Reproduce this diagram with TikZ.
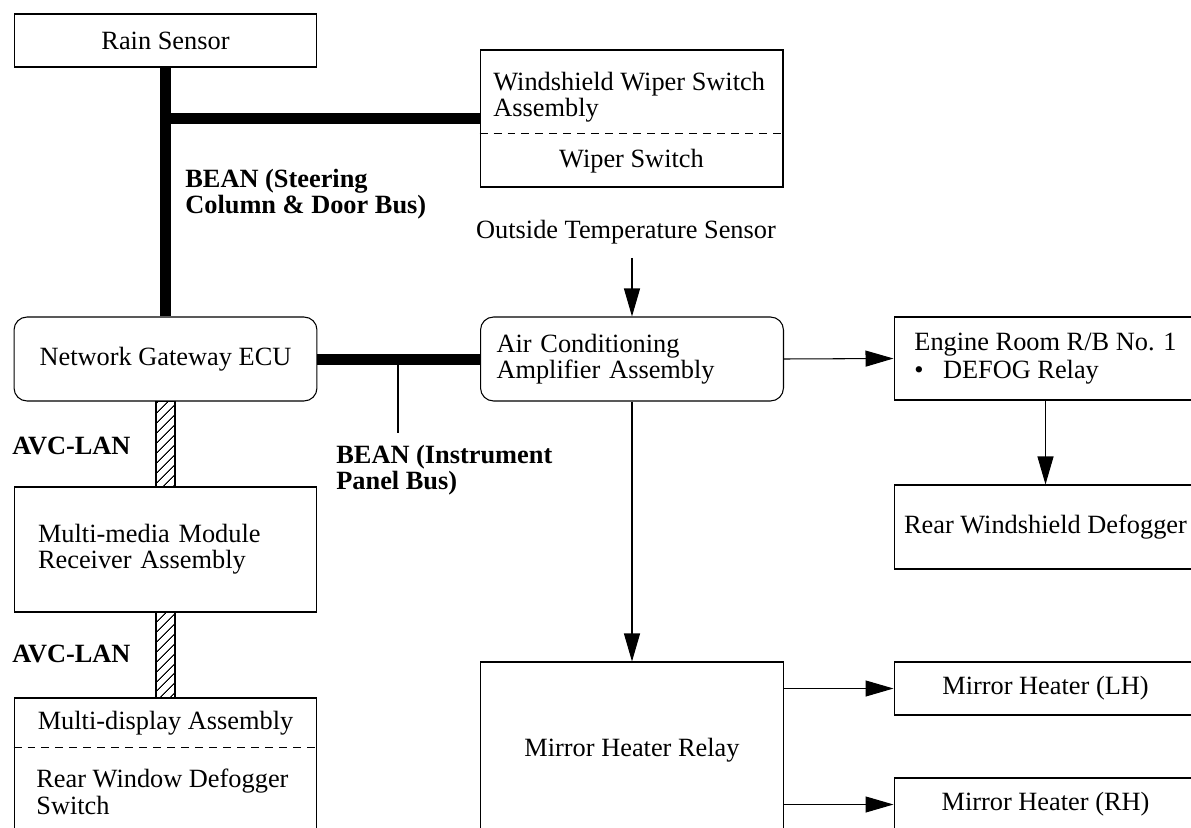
\documentclass[tikz,border=0pt]{standalone}
\usepackage{fontspec}
\setmainfont{Liberation Serif}
\usetikzlibrary{arrows.meta,patterns.meta}

\begin{document}
\begin{tikzpicture}[x=0.02cm,y=-0.02cm,
		font=\fontsize{15pt}{15pt}\selectfont,
		box/.style={draw,line width=0.6pt,minimum width=6.06cm,inner sep=0pt,align=center},
		roundbox/.style={box,rounded corners=0.26cm},
		txt/.style={inner sep=0pt,align=left},
		busname/.style={txt,font=\fontsize{15pt}{15pt}\selectfont\bfseries},
		bean/.style={line width=0.22cm},
		avc/.style={draw,line width=0.6pt,pattern={Lines[angle=45,distance=4pt,line width=0.6pt]}},
		cut/.style={line width=0.5pt,dash pattern=on 0.16cm off 0.12cm},
		feed/.style={line width=0.6pt,-{Triangle[length=0.56cm,width=0.32cm]}}]
		\useasboundingbox (0,0) rectangle (1191,828);
		\clip (0,0) rectangle (1191,828);
		% left column
		\node[box,minimum height=1.06cm] (rain) at (165.5,40.5) {Rain Sensor};
		\node[roundbox,minimum height=1.68cm] (gateway) at (165.5,359) {Network Gateway ECU};
		\node[box,minimum height=2.5cm,text width=5.10cm,inner xsep=0.48cm,align=left] (receiver) at (165.5,549.5) {Multi-media Module\\Receiver Assembly};
		\node[box,minimum height=2.8cm] (display) at (165.5,768) {};
		\node[anchor=base] (displayhead) at (165.5,729) {Multi-display Assembly};
		\node[txt,anchor=west] (displaypart) at (36,792) {Rear Window Defogger\\Switch};
		\draw[cut] ([yshift=-1cm]display.north west) -- ([yshift=-1cm]display.north east);
		% middle column
		\node[box,minimum height=2.74cm] (wiper) at (631.5,118.5) {};
		\node[txt,anchor=west] (wiperhead) at (493,97) {Windshield Wiper Switch\\Assembly};
		\node[anchor=base] (wiperpart) at (631.5,168) {Wiper Switch};
		\draw[cut] ([yshift=-1.68cm]wiper.north west) -- ([yshift=-1.68cm]wiper.north east);
		\node[txt,inner ysep=0.28cm,anchor=base] (outside) at (626,238) {Outside Temperature Sensor};
		\node[roundbox,minimum height=1.68cm,text width=5.42cm,inner xsep=0.32cm,align=left] (aircon) at (632,359) {Air Conditioning\\Amplifier Assembly};
		\node[box,minimum height=3.52cm] (relay) at (632,750) {Mirror Heater Relay};
		% right column
		\node[box,minimum height=1.66cm,align=left,font=\fontsize{15pt}{16pt}\selectfont] (engine) at (1045.5,358.5) {Engine Room R/B No. 1\\\textbullet\hspace{11pt}DEFOG Relay};
		\node[box,minimum height=1.68cm] (rearwin) at (1045.5,527) {Rear Windshield Defogger};
		\node[box,minimum height=1.06cm] (mirrorL) at (1045.5,688.5) {Mirror Heater (LH)};
		\node[box,minimum height=1.06cm] (mirrorR) at (1045.5,804.5) {Mirror Heater (RH)};
		% buses
		\coordinate (wipertap) at (rain.south |- wiper.west);
		\coordinate (iptap) at (398,359);
		\coordinate (ipend) at (398,433);
		\draw[bean] (rain.south) -- (gateway.north);
		\draw[bean] (wipertap) -- (wiper.west);
		\draw[bean] (gateway.east) -- (aircon.west);
		\draw[line width=0.6pt] (iptap) -- (ipend);
		\draw[avc] ([xshift=-0.19cm]gateway.south) rectangle ([xshift=0.19cm]receiver.north);
		\draw[avc] ([xshift=-0.19cm]receiver.south) rectangle ([xshift=0.19cm]display.north);
		\node[busname,anchor=west] (steername) at (185,194) {BEAN (Steering\\Column \& Door Bus)};
		\node[busname,anchor=west] (ipname) at (336,470) {BEAN (Instrument\\Panel Bus)};
		\node[busname,anchor=base west] (avcnameA) at (12,454) {AVC-LAN};
		\node[busname,anchor=base west] (avcnameB) at (12,662) {AVC-LAN};
		% signals
		\draw[feed] (aircon.north |- outside.south) -- (aircon.north);
		\draw[feed] (aircon.east) -- (engine.west);
		\draw[feed] (engine.south) -- (rearwin.north);
		\draw[feed] (aircon.south) -- (relay.north);
		\draw[feed] (relay.east |- mirrorL.west) -- (mirrorL.west);
		\draw[feed] (relay.east |- mirrorR.west) -- (mirrorR.west);
	\end{tikzpicture}
\end{document}
